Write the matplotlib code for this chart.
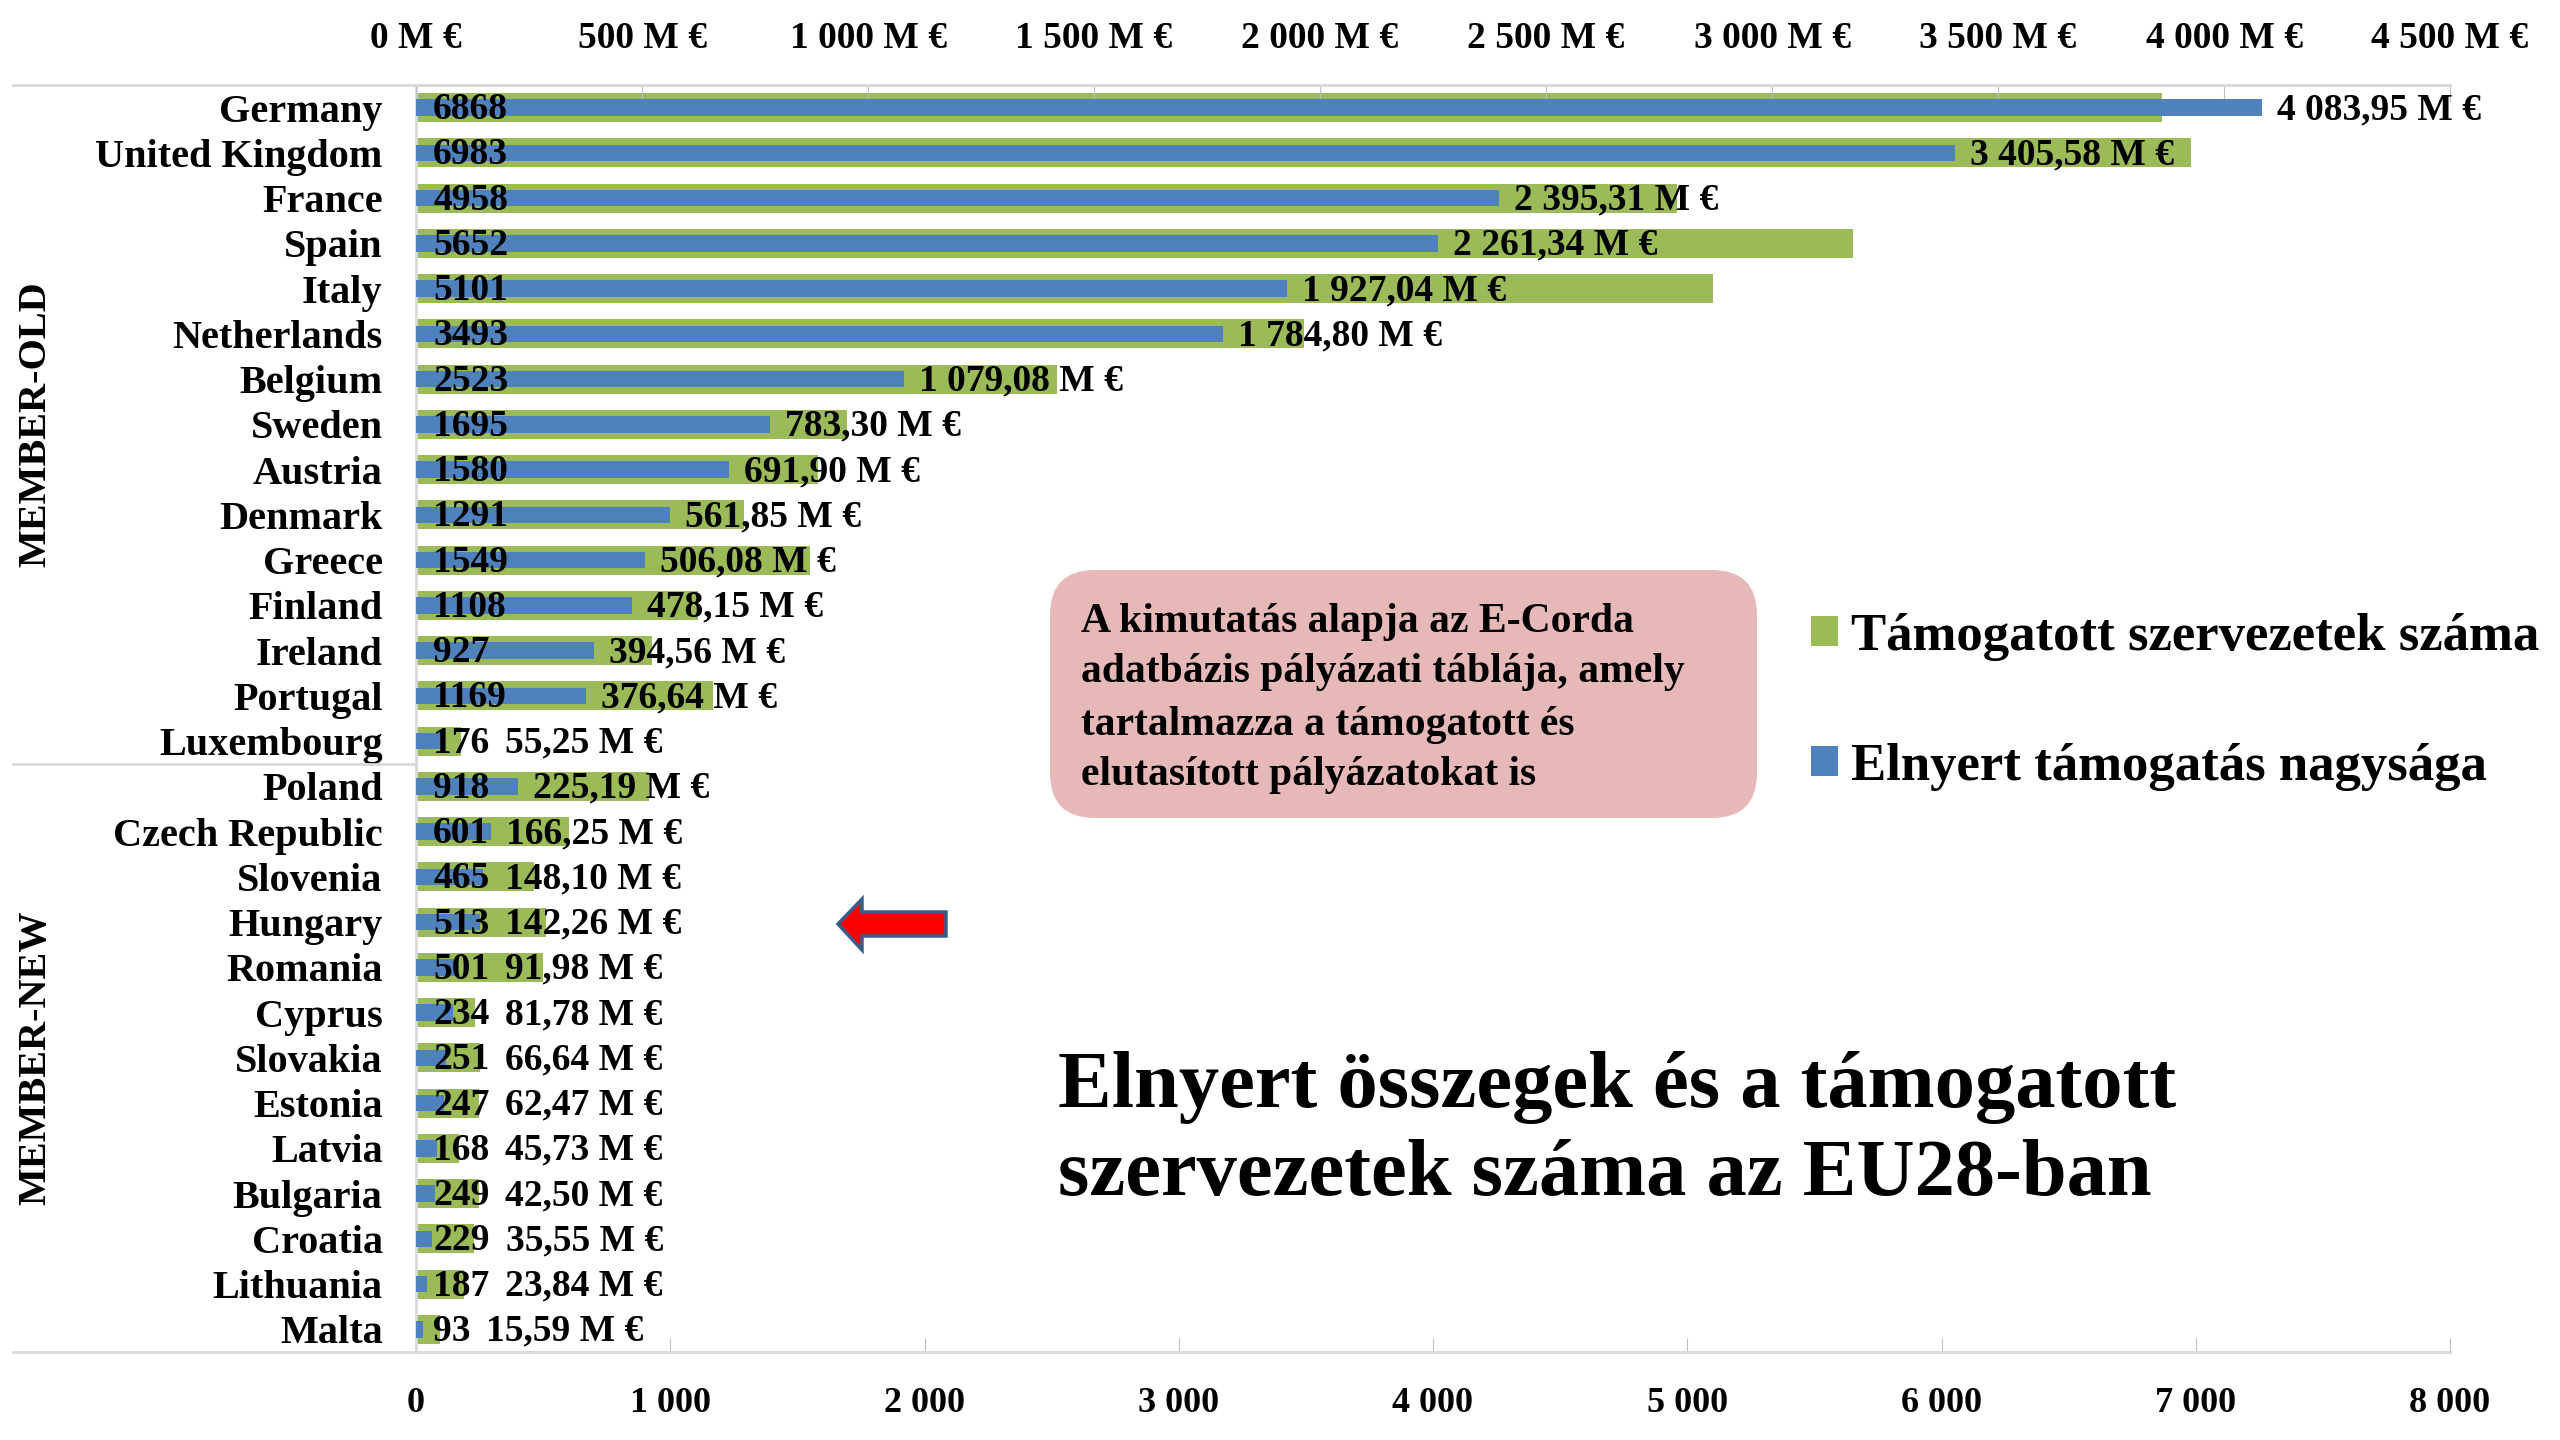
import matplotlib
matplotlib.use("Agg")
import matplotlib.pyplot as plt
from matplotlib.patches import FancyBboxPatch, Polygon
from matplotlib.transforms import blended_transform_factory

plt.rcParams['font.family'] = ['Liberation Serif', 'DejaVu Serif']
plt.rcParams['font.weight'] = 'bold'

countries = ["Germany", "United Kingdom", "France", "Spain", "Italy", "Netherlands",
             "Belgium", "Sweden", "Austria", "Denmark", "Greece", "Finland", "Ireland",
             "Portugal", "Luxembourg", "Poland", "Czech Republic", "Slovenia", "Hungary",
             "Romania", "Cyprus", "Slovakia", "Estonia", "Latvia", "Bulgaria", "Croatia",
             "Lithuania", "Malta"]
# támogatott szervezetek száma
counts = [6868, 6983, 4958, 5652, 5101, 3493, 2523, 1695, 1580, 1291, 1549, 1108, 927,
          1169, 176, 918, 601, 465, 513, 501, 234, 251, 247, 168, 249, 229, 187, 93]
# elnyert támogatás (M €)
amounts = [4083.95, 3405.58, 2395.31, 2261.34, 1927.04, 1784.80, 1079.08, 783.30, 691.90,
           561.85, 506.08, 478.15, 394.56, 376.64, 55.25, 225.19, 166.25, 148.10, 142.26,
           91.98, 81.78, 66.64, 62.47, 45.73, 42.50, 35.55, 23.84, 15.59]
groups = [("MEMBER-OLD", 0, 14), ("MEMBER-NEW", 15, 27)]
count_ticks = [0, 1000, 2000, 3000, 4000, 5000, 6000, 7000, 8000]
amount_ticks = [0, 500, 1000, 1500, 2000, 2500, 3000, 3500, 4000, 4500]

GREEN = "#9BBB59"
BLUE = "#4F81BD"
GRID = "#D9D9D9"
W, H = 2560, 1440


def hu(v, dec=0):
    s = f"{v:,.{dec}f}"
    return s.replace(",", " ").replace(".", ",")


fig = plt.figure(figsize=(25.6, 14.4), dpi=100)
L, R, T, B = 416, 2450, 85, 1352
ax = fig.add_axes([L / W, 1 - B / H, (R - L) / W, (B - T) / H])
y = list(range(len(countries)))

green = ax.barh(y, counts, height=0.64, color=GREEN, zorder=2)
ax.set_xlim(0, 8000)
ax.set_ylim(len(countries) - 0.5, -0.5)
ax.set_xticks(count_ticks)
ax.set_xticklabels([hu(t) for t in count_ticks])
ax.tick_params(axis='x', direction='in', length=10, color="#BFBFBF", labelsize=26, pad=25)
ax.set_yticks(y)
ax.set_yticklabels(countries)
ax.tick_params(axis='y', length=0, labelsize=29, pad=24)

ax2 = ax.twiny()
blue = ax2.barh(y, amounts, height=0.37, color=BLUE, zorder=3)
ax2.set_xlim(0, 4500)
ax2.set_xticks(amount_ticks)
ax2.set_xticklabels([hu(t) + " M €" for t in amount_ticks])
ax2.tick_params(axis='x', direction='in', length=12, color="#BFBFBF", labelsize=27, pad=21)

for a in (ax, ax2):
    for s in a.spines.values():
        s.set_visible(False)
ax.spines['bottom'].set_visible(True)
ax.spines['left'].set_visible(True)
ax2.spines['top'].set_visible(True)
for s in (ax.spines['bottom'], ax.spines['left'], ax2.spines['top']):
    s.set_color(GRID)
    s.set_linewidth(2)

# labels: count at the start, amount after the blue bar (pushed past the count label)
renderer = fig.canvas.get_renderer()
for i, (c, a) in enumerate(zip(counts, amounts)):
    t = ax2.annotate(str(c), xy=(0, i), xytext=(17, -2), textcoords='offset pixels',
                     va='center', ha='left', fontsize=27, zorder=5)
    x0 = ax2.transData.transform((0, i))[0]
    xend = ax2.transData.transform((a, i))[0]
    cend = t.get_window_extent(renderer).x1
    xpos = max(xend + 15, cend + 16)
    ax2.annotate(hu(a, 2) + " M €", xy=(0, i), xytext=(xpos - x0, -2),
                 textcoords='offset pixels', va='center', ha='left', fontsize=27, zorder=5)

# group lines and labels
tr = blended_transform_factory(ax.transAxes, ax.transData)
x_left = (13 - L) / (R - L)
ax.plot([x_left, 1], [-0.5, -0.5], transform=tr, color=GRID, lw=2, clip_on=False)
ax.plot([x_left, 1], [len(countries) - 0.5] * 2, transform=tr, color=GRID, lw=2, clip_on=False)
ax.plot([x_left, 0], [14.5, 14.5], transform=tr, color=GRID, lw=2, clip_on=False)
for name, i0, i1 in groups:
    ax.text((36 - L) / (R - L), (i0 + i1) / 2, name, transform=tr, rotation=90,
            ha='center', va='center', fontsize=29)

# legend
fig.legend([green, blue], ["Támogatott szervezetek száma", "Elnyert támogatás nagysága"],
           loc='center left', bbox_to_anchor=(1785 / W, 1 - 702 / H), frameon=False,
           fontsize=38, handlelength=0.5, handleheight=0.5, handletextpad=0.25,
           labelspacing=1.55, borderpad=0)

# note box
box = FancyBboxPatch((10.50, (H - 818) / 100), 7.07, 2.48,
                     boxstyle="round,pad=0,rounding_size=0.45",
                     transform=fig.dpi_scale_trans, facecolor="#E6B9B8", edgecolor="none")
fig.patches.append(box)
note = ["A kimutatás alapja az E-Corda", "adatbázis pályázati táblája, amely",
        "tartalmazza a támogatott és", "elutasított pályázatokat is"]
for line, yy in zip(note, [622, 672, 725, 775]):
    fig.text(1081 / W, 1 - yy / H, line, fontsize=30, va='center', ha='left')

# title
fig.text(1058 / W, 1 - 1088 / H, "Elnyert összegek és a támogatott", fontsize=58,
         va='center', ha='left')
fig.text(1058 / W, 1 - 1176 / H, "szervezetek száma az EU28-ban", fontsize=58,
         va='center', ha='left')

# red arrow next to Hungary
pts = [(838, 924), (862, 899), (862, 912), (946, 912), (946, 936), (862, 936), (862, 950)]
arrow = Polygon([(px / 100, (H - py) / 100) for px, py in pts], closed=True,
                transform=fig.dpi_scale_trans, facecolor="#FF0000", edgecolor="#385D8A", lw=2.5)
fig.patches.append(arrow)

fig.savefig("out.png", dpi=100)
